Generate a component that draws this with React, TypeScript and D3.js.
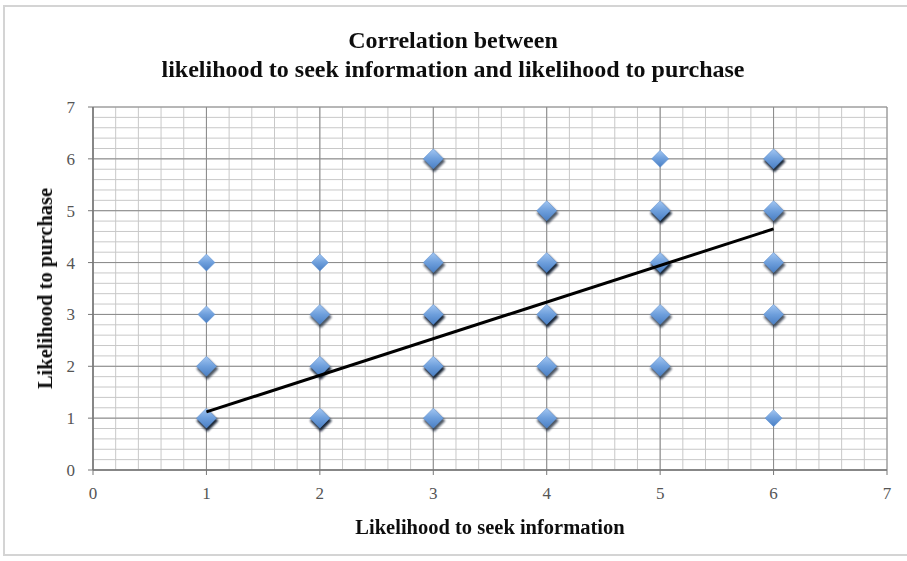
import React from "react";
import * as d3 from "d3";

const titleLines = ["Correlation between", "likelihood to seek information and likelihood to purchase"];
const xTitle = "Likelihood to seek information";
const yTitle = "Likelihood to purchase";
const xTicks = [0, 1, 2, 3, 4, 5, 6, 7];
const yTicks = [0, 1, 2, 3, 4, 5, 6, 7];

// x = seek info, y = purchase, n = number of overlapping responses (drives shadow darkness)
const pointX = [1, 1, 1, 1, 2, 2, 2, 2, 3, 3, 3, 3, 3, 4, 4, 4, 4, 4, 5, 5, 5, 5, 5, 6, 6, 6, 6, 6];
const pointY = [1, 2, 3, 4, 1, 2, 3, 4, 1, 2, 3, 4, 6, 1, 2, 3, 4, 5, 2, 3, 4, 5, 6, 1, 3, 4, 5, 6];
const pointN = [4, 2, 1, 1, 3, 3, 2, 1, 2, 3, 3, 2, 2, 2, 2, 3, 3, 2, 2, 2, 3, 3, 1, 1, 2, 2, 2, 3];

const trendX = [1, 6];
const trendY = [1.12, 4.65];

export default function App() {
  const W = 907, H = 561;
  const left = 93, right = 887, top = 107, bottom = 470;
  const x = d3.scaleLinear().domain([0, 7]).range([left, right]);
  const y = d3.scaleLinear().domain([0, 7]).range([bottom, top]);
  const minor = d3.range(0, 7.0001, 0.2);
  const pts = pointX.map((px, i) => ({ x: px, y: pointY[i], n: pointN[i] }));
  const line = d3.line<number>().x((d) => x(trendX[d])).y((d) => y(trendY[d]));
  const diamond = (cx: number, cy: number, r: number) =>
    `M${cx},${cy - r}L${cx + r},${cy}L${cx},${cy + r}L${cx - r},${cy}Z`;
  const serif = "'Liberation Serif', 'Times New Roman', serif";

  return (
    <svg width={W} height={H} style={{ position: "absolute", left: 0, top: 0, background: "#fff" }}>
      <defs>
        <linearGradient id="mk" x1="0" y1="0" x2="0" y2="1">
          <stop offset="0" stopColor="#a2c6f2" />
          <stop offset="0.5" stopColor="#6e9fdc" />
          <stop offset="1" stopColor="#4a7fc4" />
        </linearGradient>
        <filter id="blur" x="-50%" y="-50%" width="200%" height="200%">
          <feGaussianBlur stdDeviation="1.3" />
        </filter>
        <filter id="tblur" x="-5%" y="-20%" width="110%" height="140%">
          <feGaussianBlur stdDeviation="0.35" />
        </filter>
      </defs>
      <rect x={4} y={6} width={W + 10} height={549} fill="#fff" stroke="#d4d4d4" strokeWidth={2} />

      {/* minor grid */}
      {minor.map((v, i) => (
        <g key={"m" + i}>
          <line x1={x(v)} x2={x(v)} y1={top} y2={bottom} stroke="#c8c8c8" strokeWidth={1} />
          <line x1={left} x2={right} y1={y(v)} y2={y(v)} stroke="#c8c8c8" strokeWidth={1} />
        </g>
      ))}
      {/* major grid */}
      {xTicks.map((v) => (
        <line key={"gx" + v} x1={x(v)} x2={x(v)} y1={top} y2={bottom} stroke="#8a8a8a" strokeWidth={1} />
      ))}
      {yTicks.map((v) => (
        <line key={"gy" + v} x1={left} x2={right} y1={y(v)} y2={y(v)} stroke="#8a8a8a" strokeWidth={1} />
      ))}
      {/* axes */}
      <line x1={left} x2={left} y1={top} y2={bottom} stroke="#777" strokeWidth={1.5} />
      <line x1={left} x2={right} y1={bottom} y2={bottom} stroke="#777" strokeWidth={1.5} />
      {yTicks.map((v) => (
        <line key={"ty" + v} x1={left - 5} x2={left} y1={y(v)} y2={y(v)} stroke="#777" />
      ))}
      {xTicks.map((v) => (
        <line key={"tx" + v} x1={x(v)} x2={x(v)} y1={bottom} y2={bottom + 5} stroke="#777" />
      ))}

      {/* tick labels */}
      {xTicks.map((v) => (
        <text key={"lx" + v} x={x(v)} y={bottom + 29} textAnchor="middle" fontFamily={serif} fontSize={17} fill="#555">
          {v}
        </text>
      ))}
      {yTicks.map((v) => (
        <text key={"ly" + v} x={left - 18} y={y(v) + 6} textAnchor="end" fontFamily={serif} fontSize={17} fill="#555">
          {v}
        </text>
      ))}

      {/* points */}
      {pts.map((p, i) => {
        const cx = x(p.x), cy = y(p.y);
        const r = p.n > 1 ? 10 : 8.5;
        return (
          <g key={"p" + i}>
            {p.n > 1 && (
              <path
                d={diamond(cx + 1, cy + 2.5, 11)}
                fill="#0d1a2e"
                opacity={Math.min(0.95, 0.3 + 0.22 * p.n)}
                filter="url(#blur)"
              />
            )}
            <path d={diamond(cx, cy, r)} fill="url(#mk)" stroke="#5b8fd0" strokeWidth={0.5} />
          </g>
        );
      })}

      {/* trend line */}
      <path d={line([0, 1]) || ""} stroke="#000" strokeWidth={3} fill="none" />

      {/* titles */}
      <g filter="url(#tblur)">
        {titleLines.map((t, i) => (
          <text key={"t" + i} x={453} y={48 + i * 29} textAnchor="middle" fontFamily={serif} fontWeight="bold" fontSize={24} fill="#111">
            {t}
          </text>
        ))}
        <text x={490} y={534} textAnchor="middle" fontFamily={serif} fontWeight="bold" fontSize={20.5} fill="#111">
          {xTitle}
        </text>
        <text
          transform={`translate(52,${(top + bottom) / 2}) rotate(-90)`}
          textAnchor="middle"
          fontFamily={serif}
          fontWeight="bold"
          fontSize={20.5}
          fill="#111"
        >
          {yTitle}
        </text>
      </g>
    </svg>
  );
}
